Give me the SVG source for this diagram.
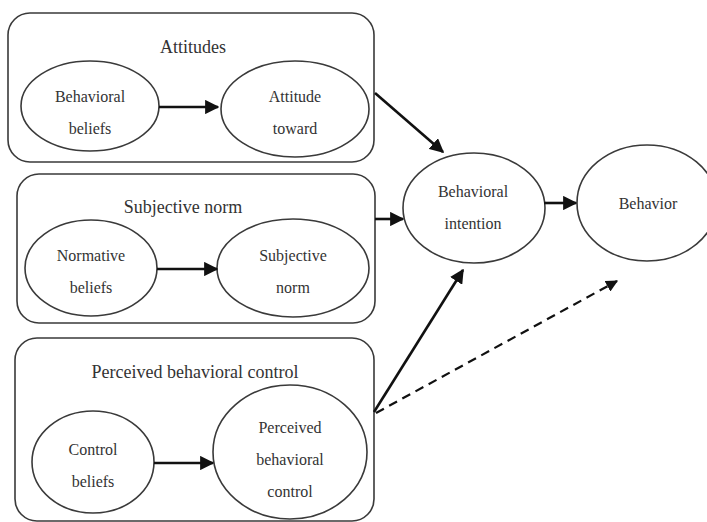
<svg xmlns="http://www.w3.org/2000/svg" width="707" height="522" viewBox="0 0 707 522">
  <style>
    .box { fill: none; stroke: #3a3a3a; stroke-width: 1.6; }
    .node { fill: #fff; stroke: #3a3a3a; stroke-width: 1.6; }
    text { font-family: "Liberation Serif", Tinos, "DejaVu Serif", "Noto Serif", "Times New Roman", Times, serif; fill: #333; text-anchor: middle; }
    .title { font-size: 18px; }
    .lbl { font-size: 16px; }
    .arrow { fill: none; stroke: #111; stroke-width: 2.6; marker-end: url(#head); }
    .dashed { stroke-dasharray: 9 6; stroke-width: 2.2; }
  </style>
  <defs>
    <marker id="head" viewBox="0 0 10 10" refX="9" refY="5" markerWidth="5.5" markerHeight="5.5" markerUnits="strokeWidth" orient="auto">
      <path d="M0,0 L10,5 L0,10 Z" fill="#111"/>
    </marker>
  </defs>
  <rect width="707" height="522" fill="#fff"/>

  <!-- Attitudes group -->
  <g id="attitudes">
    <rect class="box" x="8" y="13" width="366" height="149" rx="22"/>
    <text class="title" x="193" y="53">Attitudes</text>
  </g>
  <g id="behavioral-beliefs">
    <ellipse class="node" cx="90" cy="106" rx="69" ry="45"/>
    <text class="lbl" x="90" y="102">Behavioral</text>
    <text class="lbl" x="90" y="134">beliefs</text>
  </g>
  <g id="attitude-toward">
    <ellipse class="node" cx="295" cy="109" rx="74" ry="48"/>
    <text class="lbl" x="295" y="102">Attitude</text>
    <text class="lbl" x="295" y="134">toward</text>
  </g>

  <!-- Subjective norm group -->
  <g id="subjective-norm-group">
    <rect class="box" x="17" y="174" width="358" height="149" rx="22"/>
    <text class="title" x="183" y="213">Subjective norm</text>
  </g>
  <g id="normative-beliefs">
    <ellipse class="node" cx="91" cy="268" rx="66" ry="48"/>
    <text class="lbl" x="91" y="261">Normative</text>
    <text class="lbl" x="91" y="293">beliefs</text>
  </g>
  <g id="subjective-norm">
    <ellipse class="node" cx="293" cy="268" rx="76" ry="49"/>
    <text class="lbl" x="293" y="261">Subjective</text>
    <text class="lbl" x="293" y="293">norm</text>
  </g>

  <!-- Perceived behavioral control group -->
  <g id="pbc-group">
    <rect class="box" x="15" y="338" width="359" height="183" rx="22"/>
    <text class="title" x="195" y="378">Perceived behavioral control</text>
  </g>
  <g id="control-beliefs">
    <ellipse class="node" cx="93" cy="462" rx="61" ry="51"/>
    <text class="lbl" x="93" y="455">Control</text>
    <text class="lbl" x="93" y="487">beliefs</text>
  </g>
  <g id="perceived-behavioral-control">
    <ellipse class="node" cx="290" cy="452" rx="77" ry="67"/>
    <text class="lbl" x="290" y="433">Perceived</text>
    <text class="lbl" x="290" y="465">behavioral</text>
    <text class="lbl" x="290" y="497">control</text>
  </g>

  <!-- Intention and behavior -->
  <g id="behavioral-intention">
    <ellipse class="node" cx="474" cy="208" rx="71" ry="55"/>
    <text class="lbl" x="473" y="197">Behavioral</text>
    <text class="lbl" x="473" y="229">intention</text>
  </g>
  <g id="behavior">
    <ellipse class="node" cx="647" cy="203" rx="70" ry="58"/>
    <text class="lbl" x="648" y="209">Behavior</text>
  </g>

  <!-- Connectors -->
  <g id="connectors">
    <line class="arrow" x1="159" y1="107" x2="218" y2="107"/>
    <line class="arrow" x1="157" y1="269" x2="217" y2="269"/>
    <line class="arrow" x1="154" y1="463" x2="213" y2="463"/>
    <line class="arrow" x1="375" y1="93" x2="443" y2="152"/>
    <line class="arrow" x1="375" y1="219" x2="403" y2="219"/>
    <line class="arrow" x1="544" y1="203" x2="576" y2="203"/>
    <line class="arrow" x1="374" y1="412" x2="463" y2="270"/>
    <line class="arrow dashed" x1="376" y1="413" x2="617" y2="281"/>
  </g>
</svg>
